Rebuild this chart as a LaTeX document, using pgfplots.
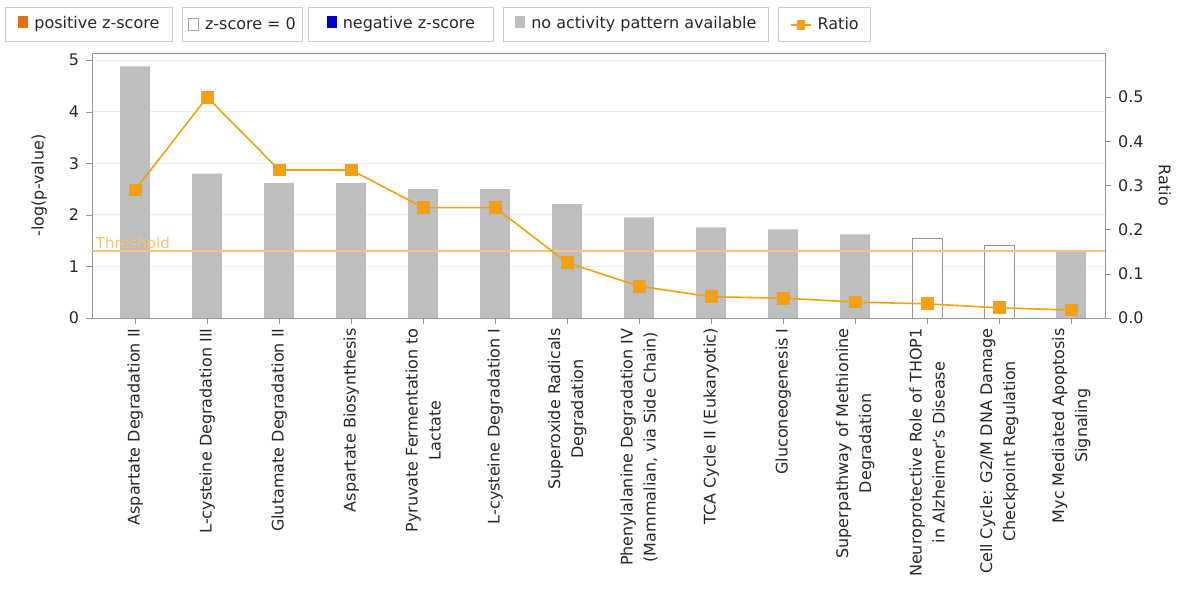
\documentclass[border=0pt]{standalone}
\usepackage{pgfplots}
\pgfplotsset{compat=1.18}
\usepackage{fontspec}
\setmainfont{DejaVu Sans}
\definecolor{bargray}{RGB}{190,190,190}
\definecolor{ratioorange}{RGB}{243,160,20}
\definecolor{posorange}{RGB}{224,112,16}
\definecolor{negblue}{RGB}{0,0,204}
\definecolor{thr}{RGB}{245,196,120}
\definecolor{axgray}{RGB}{150,150,150}
\definecolor{txt}{RGB}{40,40,40}
\begin{document}
\begin{tikzpicture}[font=\fontsize{8}{9}\selectfont, text=txt]
\useasboundingbox (-46pt,-137pt) rectangle (551pt,159pt);
\begin{axis}[at={(0,0)}, anchor=south west, scale only axis,
  width=506.5pt, height=132.5pt,
  xmin=-0.6, xmax=13.47, ymin=0, ymax=5.14,
  ybar, bar width=15pt, bar shift=0pt,
  xtick={0,...,13},
  xticklabels={
    {Aspartate Degradation II},
    {L-cysteine Degradation III},
    {Glutamate Degradation II},
    {Aspartate Biosynthesis},
    {Pyruvate Fermentation to\\Lactate},
    {L-cysteine Degradation I},
    {Superoxide Radicals\\Degradation},
    {Phenylalanine Degradation IV\\(Mammalian, via Side Chain)},
    {TCA Cycle II (Eukaryotic)},
    {Gluconeogenesis I},
    {Superpathway of Methionine\\Degradation},
    {Neuroprotective Role of THOP1\\in Alzheimer’s Disease},
    {Cell Cycle: G2/M DNA Damage\\Checkpoint Regulation},
    {Myc Mediated Apoptosis\\Signaling}},
  xticklabel style={rotate=90, anchor=east, align=center, inner sep=2pt,
    font=\fontsize{8}{11.5}\selectfont},
  ytick={0,...,5},
  ytick pos=left, xtick pos=bottom, tick align=outside,
  major tick length=3pt,
  axis line style={axgray}, tick style={axgray},
  ymajorgrids, grid style={black!7},
  /pgf/number format/assume math mode=true,
  ylabel={-log(p-value)},
  ylabel style={at={(axis description cs:-0.052,0.5)}, anchor=center},
]
\addplot[fill=bargray, draw=none] coordinates {
  (0,4.88) (1,2.80) (2,2.62) (3,2.62) (4,2.50) (5,2.50) (6,2.21)
  (7,1.95) (8,1.76) (9,1.72) (10,1.62) (13,1.32)};
\addplot[fill=white, draw=axgray] coordinates {(11,1.55) (12,1.40)};
\addplot[sharp plot, thr, line width=0.8pt] coordinates {(-0.6,1.3) (13.47,1.3)};
\node[anchor=south west, text=thr, inner sep=1pt, font=\fontsize{7.5}{8}\selectfont] at (axis cs:-0.58,1.3) {Threshold};
\end{axis}
\begin{axis}[at={(0,0)}, anchor=south west, scale only axis,
  width=506.5pt, height=132.5pt,
  xmin=-0.6, xmax=13.47, ymin=0, ymax=0.6,
  axis x line=none, axis y line*=right,
  ytick={0,0.1,...,0.5},
  yticklabel style={/pgf/number format/fixed, /pgf/number format/fixed zerofill, /pgf/number format/precision=1},
  /pgf/number format/assume math mode=true,
  tick align=outside, major tick length=3pt,
  axis line style={axgray}, tick style={axgray},
  ylabel={Ratio},
  ylabel style={at={(axis description cs:1.059,0.5)}, anchor=center, rotate=180},
]
\addplot[ratioorange, line width=0.8pt, mark=square*, mark size=2.8pt] coordinates {
  (0,0.29) (1,0.50) (2,0.335) (3,0.335) (4,0.25) (5,0.25) (6,0.125)
  (7,0.072) (8,0.048) (9,0.045) (10,0.036) (11,0.032) (12,0.023) (13,0.018)};
\end{axis}
% legend
\tikzset{lg/.style={draw=black!20, anchor=west, minimum height=17pt, inner xsep=3pt, align=left}}
\node[lg, minimum width=83.5pt] at (-43.5pt,147pt) {\textcolor{posorange}{\rule{5pt}{6pt}}\hspace{3pt}positive z-score\hfill};
\node[lg, minimum width=58pt] at (45pt,147pt) {\textcolor{black!35}{\fboxsep=0pt\fboxrule=0.4pt\fbox{\textcolor{white}{\rule{4.5pt}{5.5pt}}}}\hspace{3pt}z-score = 0};
\node[lg, minimum width=92.5pt] at (108pt,147pt) {\textcolor{negblue}{\rule{5pt}{6pt}}\hspace{3pt}negative z-score};
\node[lg, minimum width=132.5pt] at (205.5pt,147pt) {\textcolor{bargray}{\rule{5pt}{6pt}}\hspace{3pt}no activity pattern available};
\node[lg, minimum width=46pt] at (343pt,147pt) {\tikz[baseline=-0.6ex]{\draw[ratioorange, line width=0.8pt] (0,0) -- (10pt,0); \fill[ratioorange] (3pt,-2.5pt) rectangle (7pt,2.5pt);}\hspace{3pt}Ratio};
\end{tikzpicture}
\end{document}
